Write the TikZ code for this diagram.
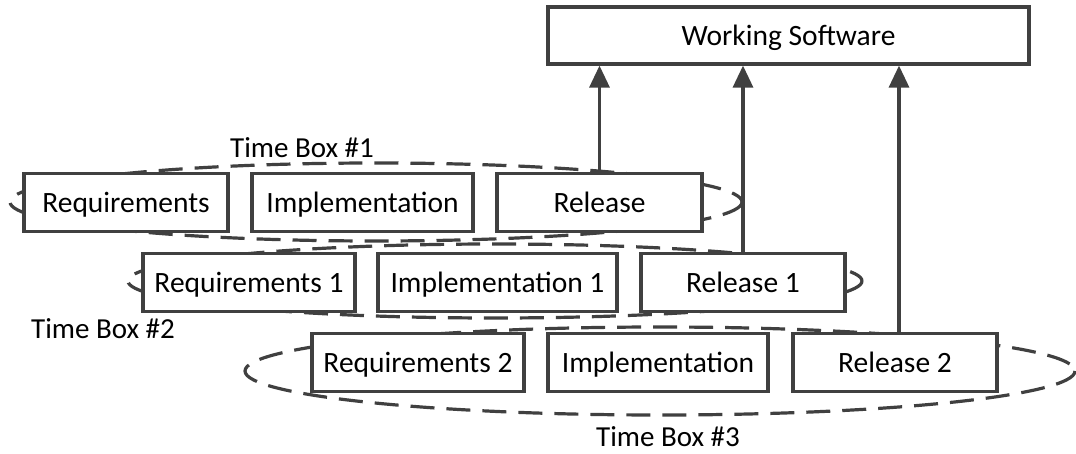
\documentclass[tikz,border=0pt]{standalone}
\usepackage{fontspec}
\setmainfont{Carlito}
\usetikzlibrary{arrows.meta}
\definecolor{lc}{HTML}{404040}
\tikzset{
  stage/.style={draw=lc, line width=3.2pt, fill=white, minimum height=58pt, inner sep=0pt,
    text height=24pt, text depth=4pt, font=\fontsize{29.5}{34}\selectfont},
  tbox/.style={draw=lc, line width=3.2pt, dash pattern=on 24pt off 12pt},
  uparrow/.style={draw=lc, line width=3.2pt, -{Triangle[length=22pt,width=20pt]}},
  lbl/.style={font=\fontsize{29}{34}\selectfont, inner sep=0pt}
}
\begin{document}
\begin{tikzpicture}[x=1pt,y=-1pt]
\useasboundingbox (0,0) rectangle (1076,454);
% time boxes (ellipses)
\draw[tbox] (376,202) ellipse [x radius=366, y radius=39];
\draw[tbox] (495,281) ellipse [x radius=367, y radius=37];
\draw[tbox] (660,371) ellipse [x radius=415, y radius=44];
% working software
\node[stage, minimum width=481pt, minimum height=57pt] (ws) at (788.5,35.5) {Working Software};
% row 1
\node[stage, minimum width=204pt] (req) at (126,202.5) {Requirements};
\node[stage, minimum width=221pt] (imp) at (362.5,202.5) {Implementation};
\node[stage, minimum width=205pt] (rel) at (599.5,202.5) {Release};
% row 2
\node[stage, minimum width=212pt] (req1) at (249,282.5) {Requirements 1};
\node[stage, minimum width=239pt] (imp1) at (497.5,282.5) {Implementation 1};
\node[stage, minimum width=204pt] (rel1) at (743,282.5) {Release 1};
% row 3
\node[stage, minimum width=212pt] (req2) at (418,362.5) {Requirements 2};
\node[stage, minimum width=220pt] (imp2) at (658,362.5) {Implementation};
\node[stage, minimum width=204pt] (rel2) at (895,362.5) {Release 2};
% arrows
\draw[uparrow] (rel.north) -- (rel.north |- ws.south);
\draw[uparrow] (rel1.north) -- (rel1.north |- ws.south);
\coordinate (a3) at (899,333);
\draw[uparrow] (a3) -- (a3 |- ws.south);
% labels
\node[lbl] (t1) at (302,148) {Time Box \#1};
\node[lbl] (t2) at (103,329) {Time Box \#2};
\node[lbl] (t3) at (668,437) {Time Box \#3};
\end{tikzpicture}
\end{document}
